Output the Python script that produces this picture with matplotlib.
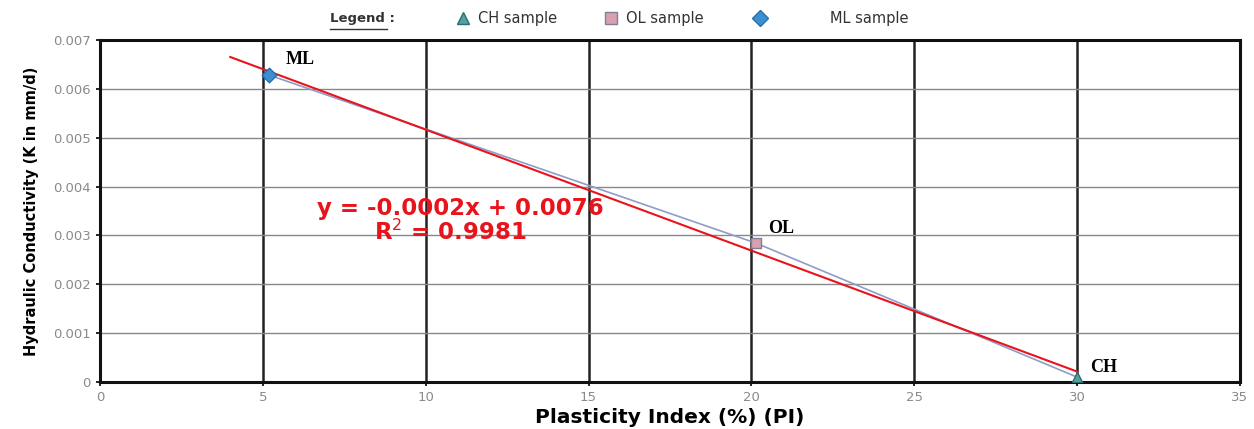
import numpy as np
import matplotlib.pyplot as plt
from matplotlib.lines import Line2D

# sample data
samples = ['ML', 'OL', 'CH']
pi_vals = [5.2, 20.15, 30.0]
k_vals = [0.00628, 0.00284, 0.00010]
markers = ['D', 's', '^']
face_cols = ['#3d8fd1', '#d9a0b0', '#4fa3a0']
edge_cols = ['#2a6fa8', '#7f7f9a', '#2e6f6a']
legend_labels = ['CH sample', 'OL sample', 'ML sample']
trend_eq = 'y = -0.0002x + 0.0076'
trend_r2 = 'R$^2$ = 0.9981'
xticks = [0, 5, 10, 15, 20, 25, 30, 35]
yticks = [0, 0.001, 0.002, 0.003, 0.004, 0.005, 0.006, 0.007]

fig = plt.figure(figsize=(12.54, 4.29), dpi=100)
ax = fig.add_axes([0.0797, 0.1096, 0.9091, 0.7972])

ax.set_xlim(0, 35)
ax.set_ylim(0, 0.007)
ax.set_xticks(xticks)
ax.set_yticks(yticks)
ax.set_yticklabels(['0'] + ['%.3f' % v for v in yticks[1:]])
ax.tick_params(labelsize=9.5, labelcolor='#8a8a8a', length=3, width=1.2)

# grid: heavy verticals, light horizontals
for xv in xticks[1:-1]:
    ax.axvline(xv, color='#222222', lw=1.8, zorder=1)
for yv in yticks[1:-1]:
    ax.axhline(yv, color='#888888', lw=1.0, zorder=1)
for s in ax.spines.values():
    s.set_linewidth(2.2)
    s.set_color('#111111')

# joining line and linear trendline
ax.plot(pi_vals, k_vals, color='#8f9cc8', lw=1.2, zorder=2)
slope, icpt = np.polyfit(pi_vals, k_vals, 1)
xt = np.array([4.0, 30.0])
ax.plot(xt, slope * xt + icpt, color='#e8141c', lw=1.5, zorder=3)

for i in range(len(samples)):
    ax.scatter(pi_vals[i], k_vals[i], marker=markers[i], s=55,
               facecolor=face_cols[i], edgecolor=edge_cols[i], lw=1, zorder=4)

lbl = dict(fontsize=13, fontweight='bold', family='Liberation Serif')
ax.text(5.7, 0.00650, samples[0], **lbl)
ax.text(20.5, 0.00305, samples[1], **lbl)
ax.text(30.4, 0.00020, samples[2], **lbl)

ax.text(11.05, 0.00356, trend_eq, color='#e8141c', fontsize=16.5, fontweight='bold',
        ha='center', va='center')
ax.text(10.75, 0.00307, trend_r2, color='#e8141c', fontsize=16.5, fontweight='bold',
        ha='center', va='center')

ax.set_xlabel('Plasticity Index (%) (PI)', fontsize=14.5, fontweight='bold', labelpad=3)
ax.set_ylabel('Hydraulic Conductivity (K in mm/d)', fontsize=10.5, fontweight='bold',
              labelpad=10)

# legend row on top, placed by hand
fig.text(0.263, 0.958, 'Legend :', fontsize=9.5, fontweight='bold', color='#333333',
         va='center')
fig.add_artist(Line2D([0.263, 0.309], [0.932, 0.932], color='#333333', lw=1))
leg_order = [2, 1, 0]
mark_x = [0.369, 0.487, 0.606]
text_x = [0.381, 0.499, 0.662]
sizes = [9, 9, 8]
for j, i in enumerate(leg_order):
    fig.add_artist(Line2D([mark_x[j]], [0.958], ls='none', marker=markers[i], ms=sizes[j],
                          mfc=face_cols[i], mec=edge_cols[i]))
    fig.text(text_x[j], 0.958, legend_labels[j], fontsize=10.5, color='#333333',
             va='center')

fig.savefig('out.png', dpi=100)
